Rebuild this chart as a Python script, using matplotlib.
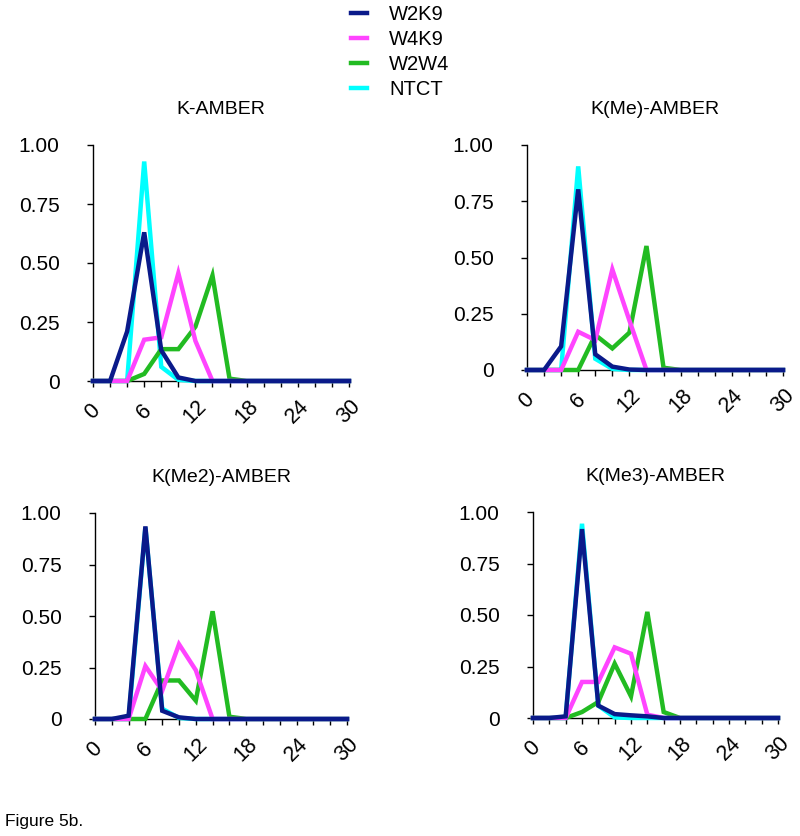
import numpy as np
import matplotlib
matplotlib.use("Agg")
import matplotlib.pyplot as plt
from matplotlib.ticker import FixedLocator, MultipleLocator

plt.rcParams['font.family'] = ['Liberation Sans', 'DejaVu Sans']

# distance bins (x axis)
dist = np.arange(0, 32, 2)

series_names = ["W2K9", "W4K9", "W2W4", "NTCT"]
colors = {"W2K9": "#0a1a8a", "W4K9": "#ff44ff", "W2W4": "#22bb22", "NTCT": "#00ffff"}

titles = ["K-AMBER", "K(Me)-AMBER", "K(Me2)-AMBER", "K(Me3)-AMBER"]

# K-AMBER
k_w2k9 = [0, 0, 0.21, 0.63, 0.13, 0.015, 0, 0, 0, 0, 0, 0, 0, 0, 0, 0]
k_w4k9 = [0, 0, 0, 0.175, 0.185, 0.457, 0.17, 0, 0, 0, 0, 0, 0, 0, 0, 0]
k_w2w4 = [0, 0, 0, 0.03, 0.135, 0.135, 0.23, 0.447, 0.01, 0, 0, 0, 0, 0, 0, 0]
k_ntct = [0, 0, 0, 0.93, 0.06, 0.005, 0, 0, 0, 0, 0, 0, 0, 0, 0, 0]

# K(Me)-AMBER
me_w2k9 = [0, 0, 0.105, 0.803, 0.07, 0.015, 0.002, 0, 0, 0, 0, 0, 0, 0, 0, 0]
me_w4k9 = [0, 0, 0, 0.17, 0.133, 0.447, 0.22, 0, 0, 0, 0, 0, 0, 0, 0, 0]
me_w2w4 = [0, 0, 0, 0, 0.156, 0.096, 0.166, 0.551, 0.01, 0, 0, 0, 0, 0, 0, 0]
me_ntct = [0, 0, 0, 0.905, 0.05, 0.005, 0, 0, 0, 0, 0, 0, 0, 0, 0, 0]

# K(Me2)-AMBER
me2_w2k9 = [0, 0, 0.016, 0.935, 0.04, 0.008, 0, 0, 0, 0, 0, 0, 0, 0, 0, 0]
me2_w4k9 = [0, 0, 0, 0.257, 0.137, 0.363, 0.237, 0, 0, 0, 0, 0, 0, 0, 0, 0]
me2_w2w4 = [0, 0, 0, 0, 0.187, 0.187, 0.089, 0.523, 0.011, 0, 0, 0, 0, 0, 0, 0]
me2_ntct = [0, 0, 0, 0.93, 0.05, 0.005, 0, 0, 0, 0, 0, 0, 0, 0, 0, 0]

# K(Me3)-AMBER
me3_w2k9 = [0, 0, 0.008, 0.917, 0.06, 0.019, 0.013, 0.008, 0, 0, 0, 0, 0, 0, 0, 0]
me3_w4k9 = [0, 0, 0, 0.175, 0.175, 0.343, 0.312, 0.016, 0, 0, 0, 0, 0, 0, 0, 0]
me3_w2w4 = [0, 0, 0, 0.029, 0.078, 0.264, 0.105, 0.515, 0.029, 0, 0, 0, 0, 0, 0, 0]
me3_ntct = [0, 0, 0, 0.943, 0.06, 0.003, 0, 0, 0, 0, 0, 0, 0, 0, 0, 0]

panels = [
    {"W2K9": k_w2k9, "W4K9": k_w4k9, "W2W4": k_w2w4, "NTCT": k_ntct},
    {"W2K9": me_w2k9, "W4K9": me_w4k9, "W2W4": me_w2w4, "NTCT": me_ntct},
    {"W2K9": me2_w2k9, "W4K9": me2_w4k9, "W2W4": me2_w2w4, "NTCT": me2_ntct},
    {"W2K9": me3_w2k9, "W4K9": me3_w4k9, "W2W4": me3_w2w4, "NTCT": me3_ntct},
]

y_ticks = [0, 0.25, 0.5, 0.75, 1.0]
y_labels = ["0", "0.25", "0.50", "0.75", "1.00"]
x_ticks = [0, 6, 12, 18, 24, 30]

W, H = 800, 836
fig = plt.figure(figsize=(W / 100, H / 100), dpi=100)

# axes boxes in pixels: left, top, right, bottom
boxes = [(93, 145, 349, 381), (527, 145, 783, 370),
         (95, 513, 347, 719), (533, 512, 778, 718)]

draw_order = ["NTCT", "W2W4", "W4K9", "W2K9"]
handles = {}
for box, title, data in zip(boxes, titles, panels):
    l, t, r, b = box
    ax = fig.add_axes([l / W, 1 - b / H, (r - l) / W, (b - t) / H])
    for name in draw_order:
        ln, = ax.plot(dist, data[name], color=colors[name], lw=3.2,
                      solid_joinstyle="miter", clip_on=False, zorder=3)
        handles[name] = ln
    ax.set_xlim(0, 30)
    ax.set_ylim(0, 1.0)
    ax.spines[['top', 'right']].set_visible(False)
    for s in ['left', 'bottom']:
        ax.spines[s].set_linewidth(1.0)
    ax.yaxis.set_major_locator(FixedLocator(y_ticks))
    ax.set_yticklabels(y_labels, fontsize=15)
    ax.xaxis.set_major_locator(FixedLocator(x_ticks))
    ax.xaxis.set_minor_locator(MultipleLocator(2))
    ax.set_xticklabels([str(v) for v in x_ticks], fontsize=15.5, rotation=45,
                       ha='center', va='center')
    ax.tick_params(axis='y', length=4, width=1, pad=20)
    ax.tick_params(axis='x', which='both', length=4, width=1, pad=18)
    ax.set_title(title, fontsize=14, pad=22)

fig.legend([handles[n] for n in series_names], series_names,
           loc='upper center', bbox_to_anchor=(0.5, 1.016), frameon=False,
           fontsize=14.5, handlelength=0.8, handletextpad=1.1,
           labelspacing=0.3)

fig.text(5 / W, 1 - 826 / H, "Figure 5b.", fontsize=12.5, ha='left', va='baseline')

fig.savefig("out.png", dpi=100)
